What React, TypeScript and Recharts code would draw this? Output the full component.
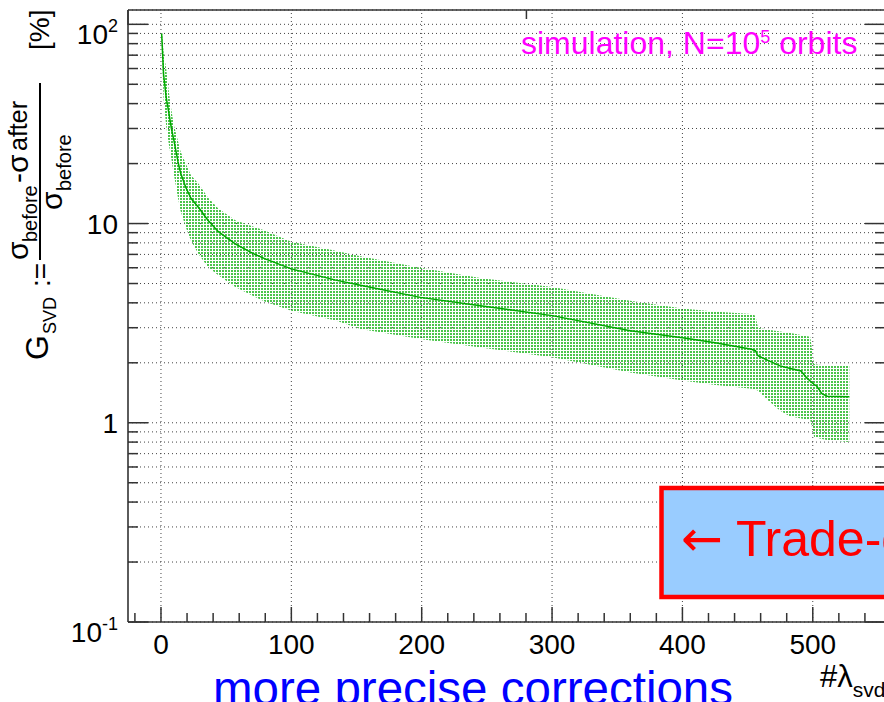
import { ComposedChart, Area, Line, XAxis, YAxis, CartesianGrid, ReferenceLine } from "recharts";

// number of kept singular values (#lambda_svd)
const nLambda = [0.5, 2, 4, 6, 8, 10, 13, 15, 19, 23, 29, 36, 44, 57, 70, 80, 100, 134, 153, 199, 245, 300, 360, 400, 424, 453, 456, 458, 466, 475, 482, 491, 495, 498, 501, 503, 507, 511, 528];
// gain in %, mean and spread band
const gainMean = [90, 56, 43, 36, 30, 26, 20.5, 18, 15.2, 13.4, 12, 10.4, 9.1, 7.9, 7.1, 6.65, 5.92, 5.2, 4.9, 4.26, 3.87, 3.45, 2.9, 2.67, 2.53, 2.34, 2.3, 2.17, 2.05, 1.93, 1.88, 1.82, 1.69, 1.62, 1.56, 1.53, 1.4, 1.36, 1.35];
const gainLow = [84, 42, 31, 25, 21, 17.5, 13.5, 11.6, 9.6, 8.2, 7, 6.05, 5.5, 4.8, 4.35, 4.05, 3.65, 3.26, 2.96, 2.63, 2.39, 2.13, 1.79, 1.63, 1.55, 1.48, 1.47, 1.45, 1.29, 1.15, 1.08, 1.05, 1.04, 1.04, 0.85, 0.84, 0.83, 0.82, 0.8];
const gainHigh = [96, 72, 60, 46, 37, 31, 26, 23, 20, 17.5, 15.8, 13.5, 11.9, 10.4, 9.7, 9.2, 8.1, 7.3, 6.85, 6, 5.33, 4.8, 4.1, 3.75, 3.62, 3.52, 3.45, 3, 2.93, 2.87, 2.83, 2.76, 2.73, 2.7, 1.97, 1.96, 1.95, 1.95, 1.93];

const xMajor = [0, 100, 200, 300, 400, 500];
const xTicks = [-20, 0, 20, 40, 60, 80, 100, 120, 140, 160, 180, 200, 220, 240, 260, 280, 300, 320, 340, 360, 380, 400, 420, 440, 460, 480, 500, 520, 540];
const yTicks = [0.1, 0.2, 0.3, 0.4, 0.5, 0.6, 0.7, 0.8, 0.9, 1, 2, 3, 4, 5, 6, 7, 8, 9, 10, 20, 30, 40, 50, 60, 70, 80, 90, 100];
const yMajor = [0.1, 1, 10, 100];
const yBase = ["10", "1", "10", "10"];
const yExp = ["-1", "", "", "2"];

const X_DOMAIN = [-25.3, 555.4];
const Y_DOMAIN = [0.1, 118];
const FONT = '"Liberation Sans", Arial, Helvetica, sans-serif';
const AXIS = "#333";

const data = nLambda.map((x, i) => ({ x, mean: gainMean[i], band: [gainLow[i], gainHigh[i]] }));

const BottomTick = (props: any) => {
  const { x, y, payload } = props;
  const major = xMajor.includes(payload.value);
  return (
    <g>
      <line x1={x} x2={x} y1={y} y2={y - (major ? 15 : 9)} stroke={AXIS} strokeWidth={1.5} />
      {major && (
        <text x={x} y={y + 32} textAnchor="middle" fontSize={28} fontFamily={FONT} fill="#000">
          {payload.value}
        </text>
      )}
    </g>
  );
};

const TopTick = (props: any) => {
  const { x, y, payload } = props;
  const major = xMajor.includes(payload.value);
  return <line x1={x} x2={x} y1={y} y2={y + (major ? 15 : 9)} stroke={AXIS} strokeWidth={1.5} />;
};

const LeftTick = (props: any) => {
  const { x, y, payload } = props;
  const idx = yMajor.indexOf(payload.value);
  const major = idx >= 0;
  const exp = major ? yExp[idx] : "";
  return (
    <g>
      <line x1={x} x2={x + (major ? 20 : 10)} y1={y} y2={y} stroke={AXIS} strokeWidth={1.5} />
      {major && (
        <text x={x - 10} y={y + (exp ? 20 : 10.5)} textAnchor="end" fontSize={28} fontFamily={FONT} fill="#000">
          {yBase[idx]}
          {exp && (
            <tspan fontSize={18} dy={-12}>
              {exp}
            </tspan>
          )}
        </text>
      )}
    </g>
  );
};

const RightTick = (props: any) => {
  const { x, y, payload } = props;
  const major = yMajor.includes(payload.value);
  return <line x1={x} x2={x - (major ? 20 : 10)} y1={y} y2={y} stroke={AXIS} strokeWidth={1.5} />;
};

export default function App() {
  return (
    <div style={{ position: "absolute", left: 0, top: 0, width: 884, height: 702, overflow: "hidden", background: "#fff" }}>
      <ComposedChart width={900} height={702} data={data} margin={{ top: 0, right: 0, bottom: 0, left: 0 }}>
        <defs>
          <pattern id="bandDots" width="3" height="3" patternUnits="userSpaceOnUse">
            <rect x="0" y="0" width="2" height="2" fill="#4cc44c" />
          </pattern>
        </defs>
        <CartesianGrid vertical={false} stroke="#444" strokeDasharray="1 3" />
        {xMajor.map((v) => (
          <ReferenceLine key={v} x={v} stroke="#444" strokeDasharray="1 3" />
        ))}
        <XAxis
          dataKey="x"
          type="number"
          domain={X_DOMAIN}
          allowDataOverflow
          ticks={xTicks}
          interval={0}
          height={80}
          tickSize={0}
          tickMargin={0}
          tick={BottomTick}
          axisLine={{ stroke: AXIS, strokeWidth: 1.6 }}
        />
        <XAxis
          xAxisId="top"
          orientation="top"
          type="number"
          domain={X_DOMAIN}
          allowDataOverflow
          ticks={xTicks}
          interval={0}
          height={10}
          tickSize={0}
          tickMargin={0}
          tick={TopTick}
          axisLine={{ stroke: AXIS, strokeWidth: 1.6 }}
        />
        <YAxis
          type="number"
          scale="log"
          domain={Y_DOMAIN}
          allowDataOverflow
          ticks={yTicks}
          interval={0}
          width={128}
          tickSize={0}
          tickMargin={0}
          tick={LeftTick}
          axisLine={{ stroke: AXIS, strokeWidth: 1.6 }}
        />
        <YAxis
          yAxisId="right"
          orientation="right"
          type="number"
          scale="log"
          domain={Y_DOMAIN}
          allowDataOverflow
          ticks={yTicks}
          interval={0}
          width={15}
          tickSize={0}
          tickMargin={0}
          tick={RightTick}
          axisLine={{ stroke: AXIS, strokeWidth: 1.6 }}
        />
        <Area
          type="linear"
          dataKey="band"
          fill="url(#bandDots)"
          fillOpacity={1}
          stroke="none"
          isAnimationActive={false}
          activeDot={false}
        />
        <Line
          type="linear"
          dataKey="mean"
          stroke="#00a800"
          strokeWidth={1.5}
          dot={false}
          activeDot={false}
          isAnimationActive={false}
        />
      </ComposedChart>

      <svg width={884} height={702} style={{ position: "absolute", left: 0, top: 0, pointerEvents: "none" }} fontFamily={FONT}>
        <g transform="rotate(-90)" fill="#000">
          <text x={-360} y={48} fontSize={32}>G</text>
          <text x={-334} y={56} fontSize={18}>SVD</text>
          <text x={-287} y={50} fontSize={28}>:=</text>
          <text x={-260} y={28} fontSize={30}>σ</text>
          <text x={-242} y={37} fontSize={20}>before</text>
          <text x={-183} y={28} fontSize={30}>-σ</text>
          <text x={-151} y={27} fontSize={25}>after</text>
          <line x1={-260} x2={-83} y1={40} y2={40} stroke="#000" strokeWidth={2} />
          <text x={-210} y={62} fontSize={30}>σ</text>
          <text x={-191} y={71} fontSize={20}>before</text>
          <text x={-50} y={49} fontSize={28}>[%]</text>
        </g>

        <text x={521} y={54} fontSize={32} fill="#ff00ff">
          simulation, N=10
          <tspan fontSize={18} dy={-11}>5</tspan>
          <tspan dy={11}> orbits</tspan>
        </text>

        <rect x={661.5} y={488} width={250} height={109} fill="#99ccff" stroke="#ff0000" strokeWidth={4.5} />
        <text x={681} y={556} fontSize={50} fill="#ff0000">
          <tspan fontFamily='"DejaVu Sans", sans-serif'>←</tspan> Trade-off
        </text>

        <text x={820} y={687} fontSize={31} fill="#000">
          #λ<tspan fontSize={21} dy={10}>svd</tspan>
        </text>
        <text x={213} y={705} fontSize={47.5} fill="#0000ff">more precise corrections</text>
      </svg>
    </div>
  );
}
